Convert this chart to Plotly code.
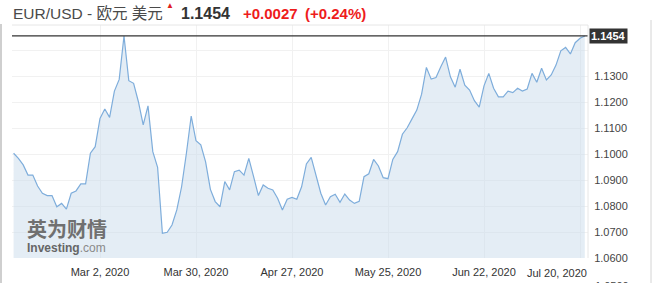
import plotly.graph_objects as go
import pandas as pd

# ---- data ----
dates = pd.bdate_range("2020-02-05", "2020-07-21")
prices = [
    1.1003, 1.0983, 1.0958, 1.0919, 1.0919, 1.0877, 1.0849, 1.0840, 1.0840, 1.0797,
    1.0810, 1.0788, 1.0849, 1.0858, 1.0885, 1.0885, 1.1003, 1.1028, 1.1137, 1.1173,
    1.1141, 1.1242, 1.1287, 1.1454, 1.1282, 1.1272, 1.1201, 1.1112, 1.1185, 1.1009,
    1.0949, 1.0695, 1.0699, 1.0727, 1.0785, 1.0874, 1.1003, 1.1146, 1.1051, 1.1035,
    1.0970, 1.0864, 1.0817, 1.0797, 1.0894, 1.0862, 1.0932, 1.0938, 1.0919, 1.0983,
    1.0913, 1.0840, 1.0881, 1.0868, 1.0862, 1.0830, 1.0785, 1.0826, 1.0833, 1.0826,
    1.0874, 1.0962, 1.0987, 1.0919, 1.0849, 1.0804, 1.0836, 1.0845, 1.0814, 1.0846,
    1.0823, 1.0810, 1.0818, 1.0913, 1.0924, 1.0979, 1.0954, 1.0909, 1.0905, 1.0979,
    1.1009, 1.1076, 1.1101, 1.1135, 1.1169, 1.1230, 1.1333, 1.1288, 1.1294, 1.1336,
    1.1373, 1.1297, 1.1257, 1.1326, 1.1265, 1.1246, 1.1205, 1.1180, 1.1262, 1.1310,
    1.1253, 1.1220, 1.1220, 1.1242, 1.1236, 1.1253, 1.1242, 1.1250, 1.1310, 1.1276,
    1.1330, 1.1285, 1.1304, 1.1342, 1.1397, 1.1410, 1.1385, 1.1428, 1.1445, 1.1454,
]
last_price = 1.1454
change_text = "+0.0027"
pct_text = "(+0.24%)"
title_text = "EUR/USD - 欧元 美元"

x_tick_vals = ["2020-03-02", "2020-03-30", "2020-04-27", "2020-05-25", "2020-06-22", "2020-07-20"]
x_tick_text = ["Mar 2, 2020", "Mar 30, 2020", "Apr 27, 2020", "May 25, 2020", "Jun 22, 2020", "Jul 20, 2020"]
y_tick_vals = [1.06, 1.07, 1.08, 1.09, 1.10, 1.11, 1.12, 1.13, 1.14]
y_tick_text = ["1.0600", "1.0700", "1.0800", "1.0900", "1.1000", "1.1100", "1.1200", "1.1300", ""]
cut_label = "1.0500"

# ---- layout geometry (pixels) ----
W, H = 659, 283
L, R, T, B = 12, 588, 25, 258
PW, PH = R - L, B - T


def px(x):
    return (x - L) / PW


def py(y):
    return (B - y) / PH


fig = go.Figure()
fig.add_trace(go.Scatter(
    x=dates, y=prices, mode="lines",
    line=dict(color="#7eaddb", width=1.2),
    fill="tozeroy", fillcolor="rgba(204,221,236,0.52)",
    hoverinfo="skip", showlegend=False,
))

font_lat = "Liberation Sans, Arial, Noto Sans CJK SC, sans-serif"

# last x tick label is pushed inside the plot, as in the reference
shown_x_text = x_tick_text[:-1] + [""]

fig.update_layout(
    width=W, height=H,
    margin=dict(l=L, r=W - R, t=T, b=H - B, autoexpand=False),
    paper_bgcolor="white", plot_bgcolor="white",
    font=dict(family=font_lat, size=11, color="#333"),
    xaxis=dict(
        type="date", automargin=False,
        range=["2020-02-04 16:00", "2020-07-21 16:00"],
        rangebreaks=[dict(bounds=["sat", "mon"])],
        tickvals=x_tick_vals, ticktext=shown_x_text,
        showgrid=True, gridcolor="#f1f1f1", gridwidth=1,
        ticks="outside", ticklen=4, tickcolor="rgba(0,0,0,0)",
        tickfont=dict(size=11, color="#333"),
        showline=False, zeroline=False, fixedrange=True,
    ),
    yaxis=dict(
        side="right", automargin=False,
        range=[1.06, 1.14 + 25 / 2600.0],
        tickvals=y_tick_vals, ticktext=y_tick_text,
        showgrid=True, gridcolor="#f1f1f1", gridwidth=1,
        ticks="outside", ticklen=3, tickcolor="rgba(0,0,0,0)",
        tickfont=dict(size=11, color="#444"),
        showline=False, zeroline=False, fixedrange=True,
    ),
    hovermode=False,
)

# shifted last x label
fig.add_annotation(xref="paper", yref="paper", x=px(589), y=py(273), xanchor="right", yanchor="middle",
                   text=x_tick_text[-1], showarrow=False, font=dict(size=11, color="#333"))

# current price line
fig.add_shape(type="line", xref="paper", yref="y", x0=0, x1=1, y0=last_price, y1=last_price,
              line=dict(color="#333", width=1.2))
# plot frame (top + right)
fig.add_shape(type="line", xref="paper", yref="paper", x0=0, x1=1, y0=1, y1=1,
              line=dict(color="#e6e6e6", width=1))
fig.add_shape(type="line", xref="paper", yref="paper", x0=1, x1=1, y0=0, y1=1,
              line=dict(color="#e6e6e6", width=1))
# container borders
fig.add_shape(type="line", xref="paper", yref="paper", x0=px(1), x1=px(1), y0=py(H + 5), y1=py(24),
              line=dict(color="#cfcfcf", width=2))
fig.add_shape(type="line", xref="paper", yref="paper", x0=px(651), x1=px(651), y0=py(H + 5), y1=py(20),
              line=dict(color="#d4d4d4", width=1))

# price label box
fig.add_annotation(xref="paper", yref="y", x=px(589), y=last_price, xanchor="left", yanchor="middle",
                   text="<b>" + f"{last_price:.4f}" + "</b>", showarrow=False,
                   font=dict(size=11, color="white", family=font_lat),
                   bgcolor="#333", borderpad=1)

# partially visible lower label (cut by the bottom edge, as in the reference)
fig.add_annotation(xref="paper", yref="paper", x=px(593), y=py(278), xanchor="left", yanchor="top",
                   text=cut_label, showarrow=False, font=dict(size=11, color="#444"))

# header
fig.add_annotation(xref="paper", yref="paper", x=px(11), y=py(14), xanchor="left", yanchor="middle",
                   text=title_text, showarrow=False,
                   font=dict(size=15.5, color="#4a4a4a", family="Liberation Sans, Noto Sans CJK SC, sans-serif"))
fig.add_annotation(xref="paper", yref="paper", x=px(170), y=py(5), xanchor="center", yanchor="middle",
                   text="▲", showarrow=False, font=dict(size=8, color="#e02020"))
fig.add_annotation(xref="paper", yref="paper", x=px(179), y=py(14), xanchor="left", yanchor="middle",
                   text="<b>" + f"{last_price:.4f}" + "</b>", showarrow=False,
                   font=dict(size=16, color="#333", family=font_lat))
fig.add_annotation(xref="paper", yref="paper", x=px(241), y=py(14), xanchor="left", yanchor="middle",
                   text="<b>" + change_text + "</b>", showarrow=False,
                   font=dict(size=15, color="#ee1c1c", family=font_lat))
fig.add_annotation(xref="paper", yref="paper", x=px(303), y=py(14), xanchor="left", yanchor="middle",
                   text="<b>" + pct_text + "</b>", showarrow=False,
                   font=dict(size=15, color="#ee1c1c", family=font_lat))

# watermark
fig.add_annotation(xref="paper", yref="paper", x=px(25), y=py(228), xanchor="left", yanchor="middle",
                   text="<b>英为财情</b>", showarrow=False,
                   font=dict(size=20, color="#707070", family="Noto Sans CJK SC"))
fig.add_annotation(xref="paper", yref="paper", x=px(25), y=py(248), xanchor="left", yanchor="middle",
                   text="<b>Investing</b><span style='color:#8a8a8a'>.com</span>", showarrow=False,
                   font=dict(size=12, color="#666", family=font_lat))

fig.write_html("out.html")
